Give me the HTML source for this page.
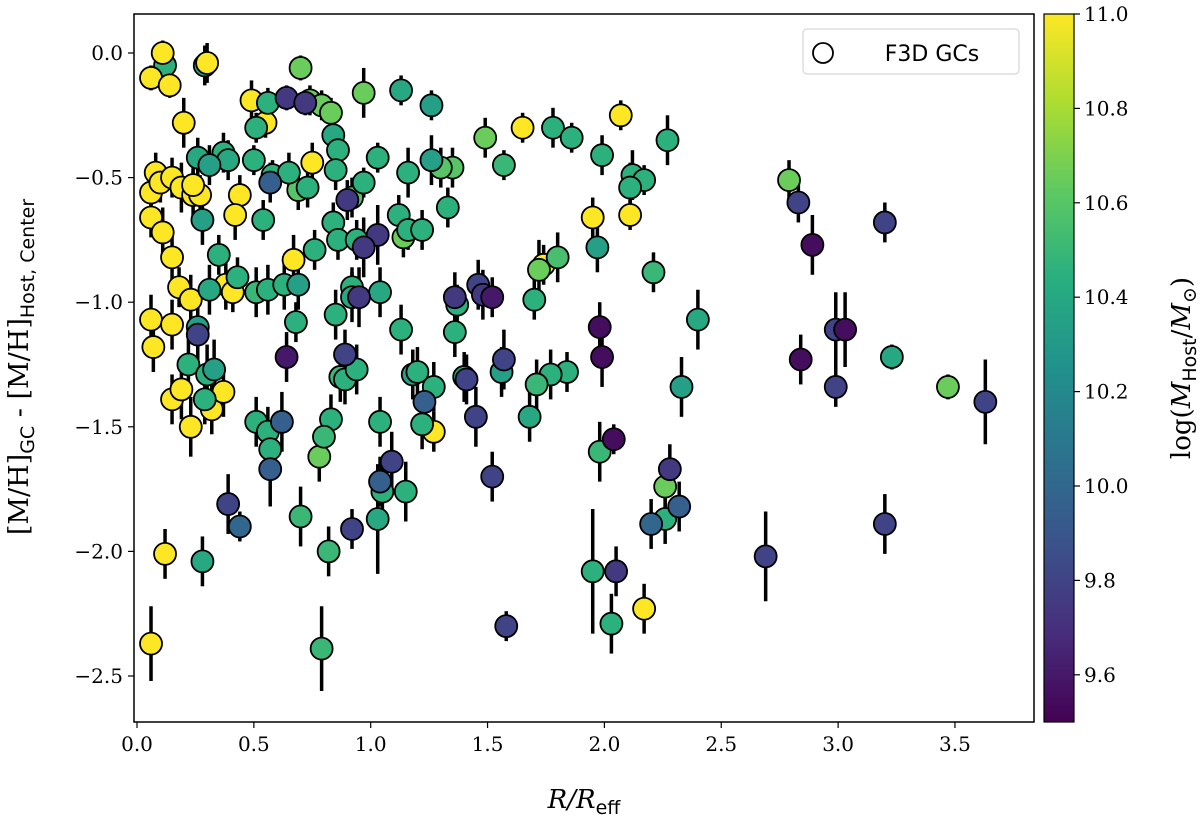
<!DOCTYPE html>
<html><head><meta charset="utf-8"><style>
body{margin:0;background:#fff;width:1200px;height:816px;overflow:hidden}
svg text{font-family:"DejaVu Serif","Liberation Serif",serif;fill:#000}
.ss{font-family:"DejaVu Sans","Liberation Sans",sans-serif}
</style></head><body>
<svg id="chart" width="1200" height="816" xmlns="http://www.w3.org/2000/svg">
<defs><linearGradient id="vir" x1="0" y1="1" x2="0" y2="0">
<stop offset="0" stop-color="#440154"/><stop offset="0.125" stop-color="#472d7b"/><stop offset="0.25" stop-color="#3b528b"/><stop offset="0.375" stop-color="#2c728e"/><stop offset="0.5" stop-color="#21918c"/><stop offset="0.625" stop-color="#28ae80"/><stop offset="0.75" stop-color="#5ec962"/><stop offset="0.875" stop-color="#addc30"/><stop offset="1" stop-color="#fde725"/></linearGradient></defs>
<g id="marks"></g>
<rect x="134" y="14" width="900" height="708" fill="none" stroke="#000" stroke-width="1.5"/>
<g id="axes"></g>
<g>
<rect x="803" y="29" width="216" height="45" rx="4" fill="#fff" stroke="#ccc"/>
<circle cx="823" cy="53" r="10" fill="#fff" stroke="#000" stroke-width="1.8"/>
<text class="ss" x="932" y="61" font-size="22" text-anchor="middle">F3D GCs</text>
</g>
<rect x="1044" y="14" width="30" height="708" fill="url(#vir)" stroke="#000" stroke-width="1.2"/>
<text x="584" y="808" font-size="26" text-anchor="middle" font-style="italic">R/R<tspan class="ss" font-size="19" dy="6" font-style="normal">eff</tspan></text>
<text transform="translate(28,367) rotate(-90)" font-size="27" text-anchor="middle">[M/H]<tspan class="ss" font-size="19" dy="6">GC</tspan><tspan dy="-6"> - [M/H]</tspan><tspan class="ss" font-size="19" dy="6">Host, Center</tspan></text>
<text transform="translate(1190,368) rotate(-90)" font-size="26" text-anchor="middle">log(<tspan font-style="italic">M</tspan><tspan class="ss" font-size="19" dy="6">Host</tspan><tspan dy="-6">/</tspan><tspan font-style="italic">M</tspan><tspan font-size="19" dy="6">⊙</tspan><tspan dy="-6">)</tspan></text>
</svg>
<script>
const xTicks=[0,0.5,1,1.5,2,2.5,3,3.5];
const yTicks=[0,-0.5,-1,-1.5,-2,-2.5];
const cTicks=[9.6,9.8,10,10.2,10.4,10.6,10.8,11.0];
// [R/Reff, [M/H] diff, log Mhost, error]
const points=[
[0.12,-0.05,10.45,0.06],[0.06,-0.10,11,0.05],[0.11,0.00,11,0.05],[0.14,-0.13,11,0.05],[0.29,-0.05,10.4,0.08],[0.30,-0.04,11,0.08],[0.20,-0.28,11,0.1],[0.49,-0.19,11,0.08],[0.55,-0.28,11,0.06],[0.75,-0.44,11,0.08],
[0.08,-0.48,11,0.08],[0.06,-0.56,11,0.08],[0.10,-0.52,11,0.08],[0.15,-0.50,11,0.08],[0.19,-0.54,11,0.1],[0.24,-0.57,11,0.1],[0.27,-0.57,11,0.08],[0.44,-0.57,11,0.08],[0.42,-0.65,11,0.1],[0.06,-0.66,11,0.08],
[0.11,-0.72,11,0.1],[0.15,-0.82,11,0.1],[0.18,-0.94,11,0.08],[0.23,-0.99,11,0.1],[0.38,-0.93,11,0.1],[0.41,-0.96,11,0.08],[0.67,-0.83,11,0.1],[0.06,-1.07,11,0.1],[0.07,-1.18,11,0.1],[0.15,-1.09,11,0.1],
[0.15,-1.39,11,0.1],[0.19,-1.35,11,0.12],[0.23,-1.50,11,0.12],[0.32,-1.43,11,0.1],[0.37,-1.36,11,0.1],[0.12,-2.01,11,0.1],[0.06,-2.37,11,0.15],[1.65,-0.30,11,0.06],[2.07,-0.25,11,0.06],[1.95,-0.66,11,0.08],
[2.11,-0.65,11,0.06],[1.74,-0.85,11,0.08],[1.27,-1.52,11,0.08],[2.17,-2.23,11,0.1],[0.24,-0.53,11,0.08],
[0.70,-0.06,10.65,0.05],[0.97,-0.16,10.65,0.1],[0.74,-0.19,10.65,0.06],[0.79,-0.21,10.65,0.06],[0.83,-0.24,10.65,0.06],[1.49,-0.34,10.65,0.08],[1.35,-0.46,10.6,0.08],[1.30,-0.46,10.6,0.08],[2.79,-0.51,10.65,0.08],[1.14,-0.74,10.65,0.08],
[0.92,-0.58,10.6,0.08],[1.80,-0.82,10.55,0.1],[1.72,-0.87,10.65,0.12],[0.78,-1.62,10.65,0.1],[2.26,-1.74,10.65,0.1],[3.47,-1.34,10.65,0.05],[0.69,-0.55,10.6,0.08],
[1.13,-0.15,10.4,0.06],[1.26,-0.21,10.35,0.06],[0.56,-0.20,10.45,0.06],[0.51,-0.30,10.45,0.06],[1.78,-0.30,10.45,0.08],[1.86,-0.34,10.45,0.06],[2.27,-0.35,10.45,0.1],[0.84,-0.33,10.4,0.08],[0.86,-0.39,10.45,0.08],[0.37,-0.40,10.45,0.08],
[0.39,-0.43,10.4,0.08],[0.26,-0.42,10.4,0.08],[0.31,-0.45,10.35,0.08],[0.50,-0.43,10.45,0.06],[0.58,-0.49,10.45,0.06],[0.65,-0.48,10.45,0.08],[0.73,-0.54,10.45,0.08],[0.85,-0.47,10.45,0.08],[1.03,-0.42,10.45,0.06],[1.16,-0.48,10.45,0.1],
[0.97,-0.52,10.45,0.06],[1.57,-0.45,10.5,0.06],[1.99,-0.41,10.45,0.08],[2.12,-0.49,10.45,0.1],[2.17,-0.51,10.45,0.06],[2.11,-0.54,10.45,0.1],[1.33,-0.62,10.45,0.08],[1.26,-0.43,10.35,0.1],[0.54,-0.67,10.45,0.08],[0.28,-0.67,10.35,0.1],
[0.84,-0.68,10.45,0.08],[0.86,-0.75,10.45,0.08],[0.94,-0.75,10.45,0.08],[0.76,-0.79,10.45,0.08],[1.12,-0.65,10.45,0.08],[1.16,-0.71,10.45,0.08],[1.22,-0.71,10.45,0.08],[0.35,-0.81,10.45,0.08],[0.43,-0.90,10.45,0.08],[0.51,-0.96,10.5,0.1],
[0.56,-0.95,10.45,0.1],[0.63,-0.93,10.45,0.1],[0.69,-0.93,10.35,0.1],[0.68,-1.08,10.45,0.08],[0.92,-0.94,10.45,0.08],[0.92,-0.98,10.4,0.1],[1.04,-0.96,10.4,0.1],[0.85,-1.05,10.45,0.1],[1.13,-1.11,10.45,0.1],[1.37,-1.01,10.45,0.08],
[1.36,-1.12,10.45,0.1],[1.70,-0.99,10.45,0.08],[1.97,-0.78,10.35,0.1],[2.21,-0.88,10.5,0.08],[2.40,-1.07,10.4,0.12],[0.22,-1.25,10.45,0.12],[0.30,-1.29,10.45,0.12],[0.33,-1.27,10.35,0.12],[0.29,-1.39,10.45,0.1],[0.87,-1.30,10.5,0.1],
[0.89,-1.31,10.45,0.1],[0.94,-1.27,10.45,0.1],[1.18,-1.29,10.35,0.1],[1.20,-1.28,10.45,0.1],[1.27,-1.34,10.45,0.1],[1.40,-1.30,10.45,0.1],[1.56,-1.28,10.35,0.1],[1.84,-1.28,10.45,0.08],[1.77,-1.29,10.45,0.1],[1.71,-1.33,10.5,0.1],
[1.68,-1.46,10.4,0.1],[1.22,-1.49,10.45,0.1],[0.51,-1.48,10.45,0.1],[0.56,-1.52,10.45,0.1],[0.57,-1.59,10.45,0.1],[0.83,-1.47,10.45,0.1],[0.80,-1.54,10.5,0.1],[1.04,-1.48,10.45,0.1],[1.05,-1.76,10.45,0.12],[1.15,-1.76,10.45,0.12],
[1.03,-1.87,10.4,0.22],[0.70,-1.86,10.5,0.12],[0.82,-2.00,10.5,0.1],[0.79,-2.39,10.5,0.17],[0.28,-2.04,10.4,0.1],[1.95,-2.08,10.45,0.25],[2.03,-2.29,10.45,0.12],[1.98,-1.60,10.5,0.12],[2.33,-1.34,10.35,0.12],[2.26,-1.87,10.45,0.1],
[3.23,-1.22,10.4,0.05],[0.26,-1.10,10.35,0.1],[0.31,-0.95,10.4,0.1],
[0.64,-0.18,9.75,0.05],[0.72,-0.20,9.75,0.05],[0.57,-0.52,9.95,0.08],[0.90,-0.59,9.75,0.08],[1.03,-0.73,9.75,0.12],[0.97,-0.78,9.75,0.12],[0.26,-1.13,9.8,0.12],[0.89,-1.21,9.8,0.1],[0.95,-0.98,9.75,0.12],[1.36,-0.98,9.75,0.1],
[1.46,-0.93,9.8,0.1],[1.48,-0.97,9.75,0.1],[1.52,-0.98,9.6,0.08],[1.41,-1.31,9.8,0.1],[1.57,-1.23,9.8,0.12],[1.23,-1.40,9.95,0.1],[1.45,-1.46,9.8,0.12],[0.62,-1.48,9.95,0.12],[0.57,-1.67,9.95,0.15],[1.09,-1.64,9.8,0.12],
[1.04,-1.72,9.95,0.1],[0.39,-1.81,9.8,0.12],[0.44,-1.90,10.0,0.06],[0.92,-1.91,9.8,0.08],[1.52,-1.70,9.8,0.1],[1.58,-2.30,9.8,0.06],[2.20,-1.89,10.0,0.1],[2.32,-1.82,9.95,0.1],[2.28,-1.67,9.75,0.1],[2.05,-2.08,9.75,0.1],
[2.69,-2.02,9.8,0.18],[2.83,-0.60,9.8,0.08],[3.20,-0.68,9.8,0.08],[2.99,-1.11,9.8,0.15],[2.99,-1.34,9.8,0.08],[3.20,-1.89,9.8,0.12],[3.63,-1.40,9.8,0.17],
[0.64,-1.22,9.6,0.1],[1.98,-1.10,9.55,0.1],[1.99,-1.22,9.55,0.12],[2.04,-1.55,9.55,0.06],[2.89,-0.77,9.55,0.12],[2.84,-1.23,9.55,0.1],[3.03,-1.11,9.55,0.15]
];
const X=v=>137+v*233.7, Y=v=>53-v*249.2, C=v=>722-(v-9.5)/1.5*708;
const vir=[[68,1,84],[71,45,123],[59,82,139],[44,114,142],[33,145,140],[40,174,128],[94,201,98],[173,220,48],[253,231,37]];
function cmap(v){let t=Math.max(0,Math.min(1,(v-9.5)/1.5))*8,i=Math.min(7,Math.floor(t)),f=t-i;
return 'rgb('+[0,1,2].map(k=>Math.round(vir[i][k]+(vir[i+1][k]-vir[i][k])*f)).join(',')+')';}
const NS='http://www.w3.org/2000/svg';
function mk(tag,at,p){const e=document.createElementNS(NS,tag);for(const k in at)e.setAttribute(k,at[k]);p.appendChild(e);return e;}
const marks=document.getElementById('marks'),axes=document.getElementById('axes');
points.forEach(p=>{const l=mk('line',{x1:X(p[0]),x2:X(p[0]),y1:Y(p[1]+p[3]),y2:Y(p[1]-p[3]),stroke:'#000','stroke-width':3.5},marks);

});
points.forEach(p=>{const c=mk('circle',{cx:X(p[0]),cy:Y(p[1]),r:11,fill:cmap(p[2]),stroke:'#000','stroke-width':1.8},marks);

});
xTicks.forEach(v=>{mk('line',{x1:X(v),x2:X(v),y1:722,y2:728,stroke:'#000','stroke-width':1.2},axes);
const t=mk('text',{x:X(v),y:751,'font-size':20,'text-anchor':'middle'},axes);t.textContent=v.toFixed(1);

});
yTicks.forEach(v=>{mk('line',{x1:128,x2:134,y1:Y(v),y2:Y(v),stroke:'#000','stroke-width':1.2},axes);
const t=mk('text',{x:123,y:Y(v)+7,'font-size':20,'text-anchor':'end'},axes);t.textContent=(v<0?'\u2212':'')+Math.abs(v).toFixed(1);

});
cTicks.forEach(v=>{mk('line',{x1:1074,x2:1080,y1:C(v),y2:C(v),stroke:'#000','stroke-width':1.2},axes);
const t=mk('text',{x:1084,y:C(v)+7,'font-size':20},axes);t.textContent=v.toFixed(1);

});
</script>
</body></html>
